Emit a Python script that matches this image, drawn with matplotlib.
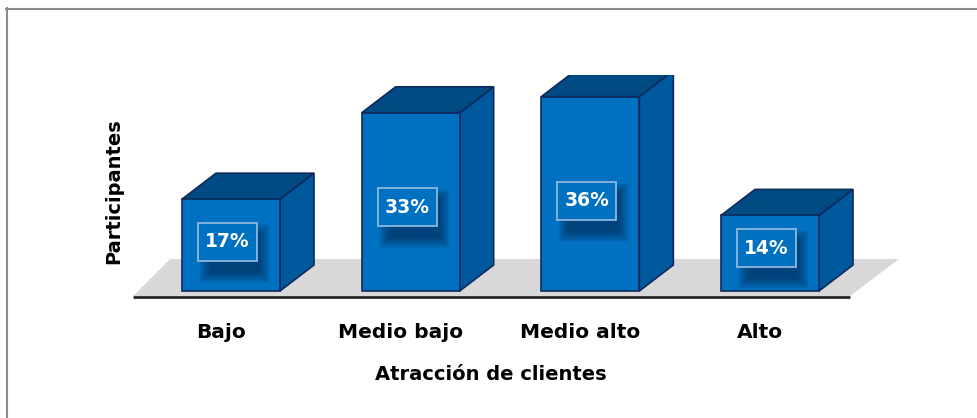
import numpy as np
import matplotlib.pyplot as plt
from matplotlib.patches import Polygon, Rectangle
from matplotlib.lines import Line2D

# datos del gráfico
categorias = ['Bajo', 'Medio bajo', 'Medio alto', 'Alto']
porcentajes = [17, 33, 36, 14]
etiquetas = ['17%', '33%', '36%', '14%']

plt.rcParams['font.family'] = ['DejaVu Sans']

W, H = 977, 418
fig = plt.figure(figsize=(W / 100, H / 100), dpi=100)

#------------------------------------
# escala: pixeles por unidad
X0, SX = 231, 179.67   # pixel de x=0, px por categoría
Y0, SY = 291, 5.4      # pixel de y=0, px por punto porcentual
xlim = (-0.7, 3.95)
ylim = (-3, 40)
izq = X0 + xlim[0] * SX
der = X0 + xlim[1] * SX
abajo = Y0 - ylim[0] * SY
arriba = Y0 - ylim[1] * SY
ax = fig.add_axes([izq / W, (H - abajo) / H, (der - izq) / W, (abajo - arriba) / H])
ax.set_xlim(*xlim)
ax.set_ylim(*ylim)
ax.axis('off')

def px(x, y):
    return ((x - X0) / SX, (Y0 - y) / SY)

#------------------------------------
# piso gris y eje
piso = Polygon([px(133, 296), px(850, 296), px(899, 259), px(170, 259)],
               closed=True, facecolor='#d9d8d9', edgecolor='none', zorder=1)
ax.add_patch(piso)
a, yb = px(133, 297)
b, _ = px(850, 297)
ax.plot([a, b], [yb, yb], color='#262626', lw=2, solid_capstyle='butt', zorder=2)

#------------------------------------
# barras 3D
w = 98 / SX
dx = 34 / SX
dy = 26 / SY
borde = '#0d2a5c'
for i, v in enumerate(porcentajes):
    x1, x2 = i - w / 2, i + w / 2
    lado = Polygon([(x2, 0), (x2 + dx, dy), (x2 + dx, v + dy), (x2, v)],
                   facecolor='#00599c', edgecolor=borde, lw=1.2, zorder=3)
    tapa = Polygon([(x1, v), (x1 + dx, v + dy), (x2 + dx, v + dy), (x2, v)],
                   facecolor='#004b84', edgecolor=borde, lw=1.2, zorder=3)
    frente = Rectangle((x1, 0), w, v, facecolor='#0070c0', edgecolor=borde,
                       lw=1.2, zorder=4)
    ax.add_patch(lado)
    ax.add_patch(tapa)
    ax.add_patch(frente)

    # etiqueta con sombra difusa
    cx = i - 0.02
    cy = v * 0.4 + 2.3
    bw = 59 / SX
    bh = 38 / SY
    sx0 = cx - bw / 2 + 12 / SX      # sombra: núcleo desplazado abajo-derecha
    sx1 = cx + bw / 2 + 2 / SX
    sy1 = cy + bh / 2 - 12 / SY
    sy0 = cy - bh / 2 - 11 / SY
    for k in range(12):
        e = k * 1.0
        sh = Rectangle((sx0 - e / SX, sy0 - e / SY), (sx1 - sx0) + 2 * e / SX,
                       (sy1 - sy0) + 2 * e / SY,
                       facecolor='#001d3a', edgecolor='none', alpha=0.055, zorder=5)
        ax.add_patch(sh)
    caja = Rectangle((cx - bw / 2, cy - bh / 2), bw, bh, facecolor='#0070c0',
                     edgecolor='#8fb6e0', lw=1.3, zorder=6)
    ax.add_patch(caja)
    ax.text(cx, cy, etiquetas[i], color='white', fontsize=13.5, fontweight='bold',
            ha='center', va='center', zorder=7)

    # nombre de la categoría
    ax.text(i - 0.055, (Y0 - 338) / SY, categorias[i], fontsize=14.5,
            fontweight='bold', color='black', ha='center', va='baseline',
            clip_on=False)

#------------------------------------
# títulos de los ejes
fig.text(491 / W, (H - 380) / H, 'Atracción de clientes', fontsize=14,
         fontweight='bold', ha='center', va='baseline')
fig.text(114 / W, (H - 191) / H, 'Participantes', fontsize=14,
         fontweight='bold', ha='center', va='center', rotation=90)

# borde del área del gráfico
fig.add_artist(Line2D([6 / W, 1], [(H - 8.5) / H] * 2, color='#8c8c8c', lw=1.5))
fig.add_artist(Line2D([6.5 / W] * 2, [0, (H - 8) / H], color='#8c8c8c', lw=1.5))

fig.savefig('out.png', dpi=100)
